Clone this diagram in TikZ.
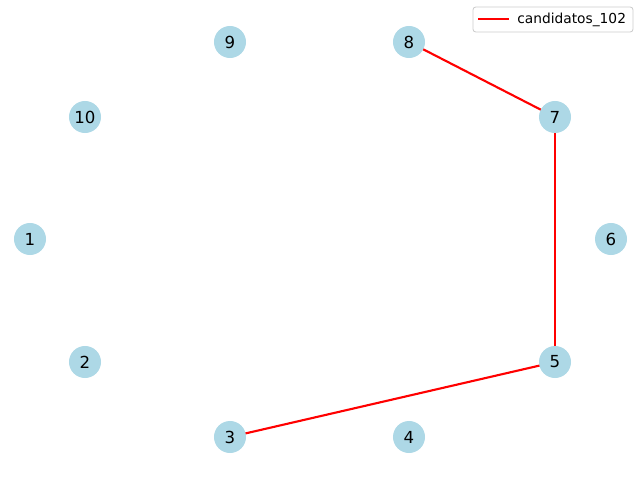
\documentclass[tikz,border=0pt]{standalone}
\usepackage{fontspec}
\setmainfont{DejaVu Sans}
\usetikzlibrary{positioning,calc}
\definecolor{nodecolor}{RGB}{173,216,230}
\definecolor{edgecolor}{RGB}{255,0,0}
\definecolor{framecolor}{RGB}{204,204,204}

\begin{document}
\begin{tikzpicture}[x=0.025cm,y=-0.025cm,
    vertex/.style={circle,fill=nodecolor,minimum size=0.8cm,inner sep=0pt,font=\fontsize{11.8}{12}\selectfont},
    edge/.style={edgecolor,line width=1.5pt},
    legendbox/.style={draw=framecolor,fill=white,rounded corners=2pt,line width=0.6pt}]
    % page frame
    \useasboundingbox (0,0) rectangle (640,480);

    % edges first, vertices on top
    \foreach \name/\x/\y in {1/30/239, 2/85/362, 3/230/437, 4/409/437, 5/555/362,
                             6/611/239, 7/555/117, 8/409/42, 9/230/42, 10/85/117}{
        \coordinate (p\name) at (\x,\y);
    }
    \foreach \a/\b in {8/7, 7/5, 5/3}{
        \draw[edge] (p\a) -- (p\b);
    }
    \foreach \name in {1,...,10}{
        \node[vertex] (v\name) at (p\name) {\name};
    }

    % legend
    \node[legendbox,minimum width=4cm,minimum height=0.625cm] (legend) at (553,19.5) {};
    \coordinate (ls) at (478,19);
    \coordinate (le) at (509,19);
    \draw[edge] (ls) -- (le);
    \node[anchor=west,inner sep=0pt,font=\fontsize{9.8}{10}\selectfont] (legendtext) at (517,19.5) {candidatos\_102};
\end{tikzpicture}
\end{document}
